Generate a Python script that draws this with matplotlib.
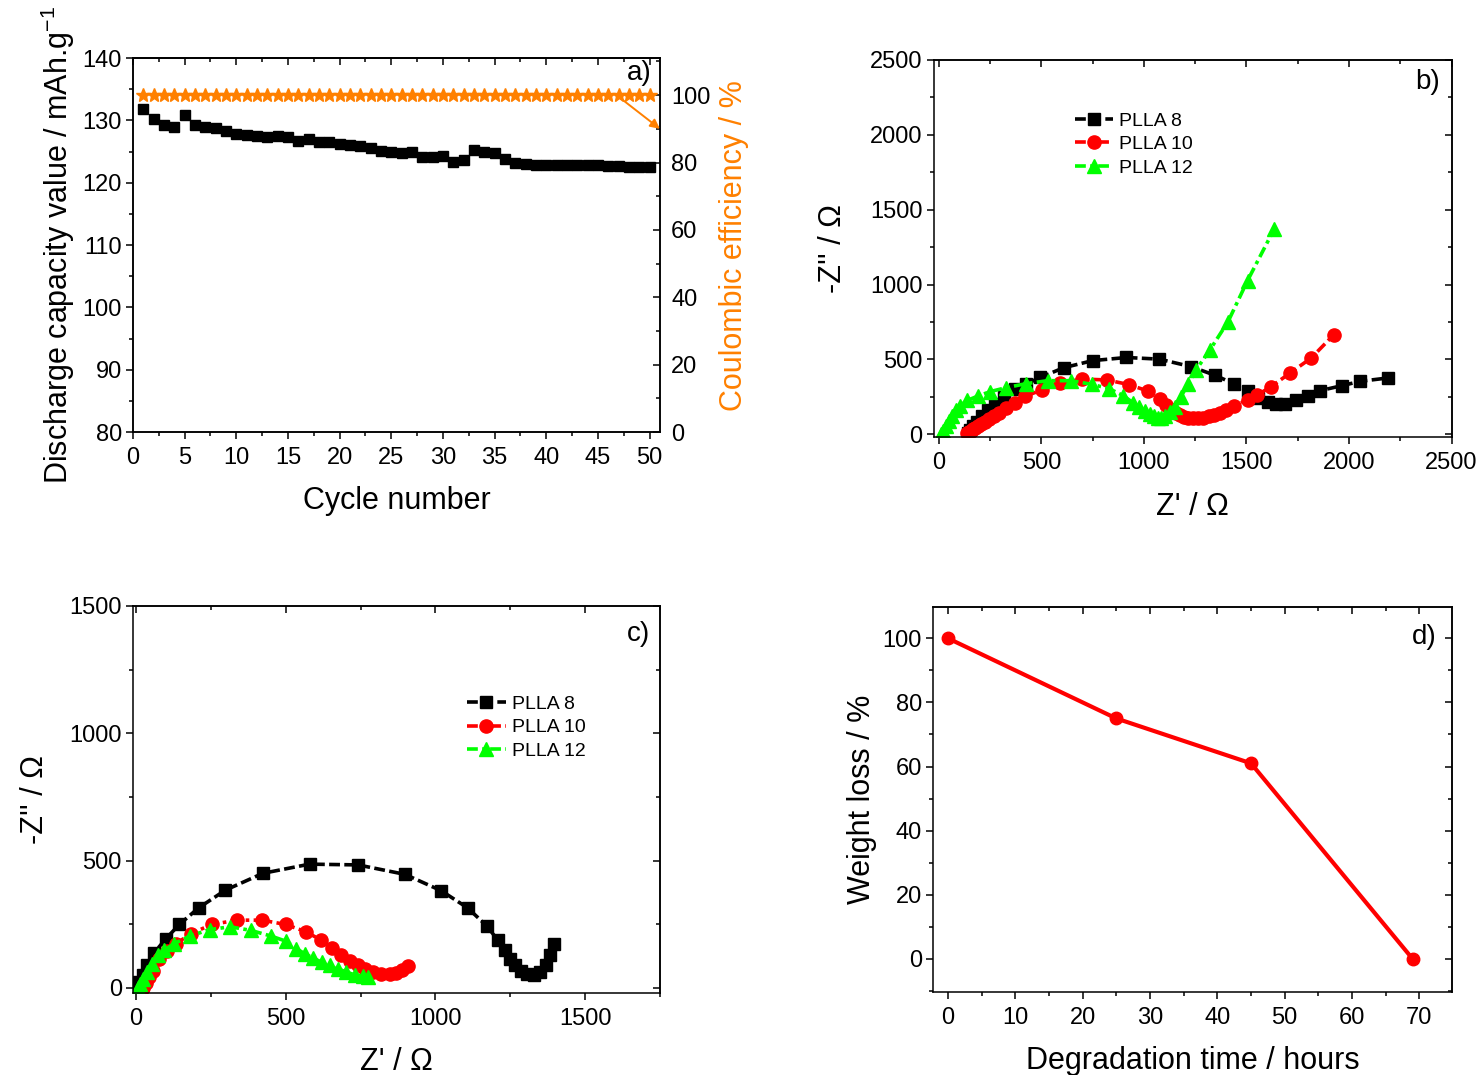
import numpy as np
import matplotlib
matplotlib.use("Agg")
import matplotlib.pyplot as plt
from matplotlib.ticker import MultipleLocator

plt.rcParams['font.family'] = ['Liberation Sans', 'DejaVu Sans']
plt.rcParams['mathtext.fontset'] = 'custom'
plt.rcParams['mathtext.rm'] = 'Liberation Sans'
plt.rcParams['mathtext.default'] = 'regular'
plt.rcParams['axes.linewidth'] = 1.1

# %% data
# a) cycling
cycles = list(range(1, 51))
capacity = [131.8, 130.2, 129.2, 129.0, 130.9, 129.2, 129.0, 128.8, 128.3, 127.8,
            127.6, 127.5, 127.3, 127.5, 127.4, 126.7, 127.0, 126.6, 126.5, 126.2,
            126.1, 125.9, 125.5, 125.1, 124.9, 124.7, 124.9, 124.2, 124.2, 124.3,
            123.3, 123.6, 125.3, 125.0, 124.7, 123.8, 123.1, 123.0, 122.9, 122.8,
            122.9, 122.8, 122.8, 122.8, 122.8, 122.7, 122.7, 122.6, 122.6, 122.6]
efficiency = [100] * 50

# b) impedance, first set
b_x8 = [140, 150, 165, 185, 210, 240, 275, 320, 370, 425, 495, 610, 750, 915, 1075,
        1230, 1345, 1438, 1507, 1555, 1605, 1645, 1690, 1740, 1800, 1860, 1966, 2055, 2188]
b_y8 = [10, 30, 55, 85, 120, 160, 205, 250, 300, 335, 380, 445, 492, 513, 502,
        452, 395, 338, 288, 245, 215, 200, 205, 228, 258, 292, 325, 354, 376]
b_x10 = [138, 145, 155, 165, 178, 192, 208, 225, 245, 268, 295, 330, 370, 421, 502,
         592, 697, 819, 927, 1021, 1078, 1110, 1135, 1155, 1175, 1195, 1215, 1240, 1265,
         1290, 1315, 1340, 1370, 1400, 1440, 1507, 1553, 1621, 1710, 1815, 1925]
b_y10 = [9, 15, 24, 33, 44, 56, 70, 84, 101, 121, 145, 175, 210, 254, 296,
         341, 369, 363, 332, 288, 234, 195, 165, 143, 128, 118, 111, 106, 107,
         112, 120, 130, 145, 163, 190, 232, 263, 319, 407, 509, 664]
b_x12 = [10, 22, 35, 50, 65, 85, 105, 138, 190, 250, 330, 425, 530, 645, 745, 830, 900,
         945, 975, 1005, 1030, 1050, 1068, 1085, 1105, 1125, 1150, 1180, 1215, 1255,
         1320, 1410, 1505, 1636]
b_y12 = [0, 25, 55, 90, 125, 160, 192, 226, 255, 285, 312, 338, 358, 358, 334, 305, 258,
         212, 180, 155, 135, 120, 112, 112, 125, 150, 185, 250, 335, 432,
         560, 752, 1026, 1373]

# c) impedance, second set
c_x8 = [5, 11, 22, 37, 61, 100, 145, 209, 299, 424, 580, 742, 898, 1019, 1108, 1172,
        1209, 1231, 1250, 1267, 1287, 1306, 1328, 1350, 1369, 1384, 1395]
c_y8 = [0, 22, 51, 88, 138, 193, 249, 314, 384, 450, 486, 483, 446, 382, 314, 243,
        187, 147, 114, 91, 68, 55, 51, 62, 88, 128, 174]
c_x10 = [25, 35, 45, 56, 78, 105, 134, 184, 253, 337, 421, 500, 569, 619, 655, 686,
         714, 742, 765, 792, 820, 848, 870, 890, 910]
c_y10 = [0, 20, 42, 68, 114, 145, 174, 213, 249, 266, 266, 249, 220, 187, 157, 128,
         104, 88, 75, 62, 55, 55, 60, 70, 85]
c_x12 = [6, 15, 25, 37, 55, 73, 93, 128, 181, 246, 315, 383, 450, 502, 536, 564, 592,
         620, 647, 675, 703, 731, 759, 776]
c_y12 = [0, 15, 35, 62, 95, 128, 147, 174, 204, 229, 240, 226, 204, 183, 154, 134, 117,
         101, 88, 75, 62, 51, 46, 42]

# d) degradation
deg_time = [0, 25, 45, 69]
weight_loss = [100, 75, 61, 0]

labels = ['PLLA 8', 'PLLA 10', 'PLLA 12']
ORANGE = '#FF8000'
TICK = 17
LAB = 22


def frame(ax, xmaj, xmin, ymaj, ymin, right=True):
    ax.xaxis.set_major_locator(MultipleLocator(xmaj))
    ax.xaxis.set_minor_locator(MultipleLocator(xmin))
    ax.yaxis.set_major_locator(MultipleLocator(ymaj))
    ax.yaxis.set_minor_locator(MultipleLocator(ymin))
    ax.tick_params(which='both', direction='out', width=1.1, labelsize=TICK, pad=3)
    ax.tick_params(axis='x', pad=6)
    ax.tick_params(which='major', length=5)
    ax.tick_params(which='minor', length=3)
    top = ax.secondary_xaxis('top')
    top.xaxis.set_major_locator(MultipleLocator(xmaj))
    top.xaxis.set_minor_locator(MultipleLocator(xmin))
    top.tick_params(which='both', direction='in', labeltop=False, width=1.1)
    top.tick_params(which='major', length=5)
    top.tick_params(which='minor', length=3)
    if right:
        r = ax.secondary_yaxis('right')
        r.yaxis.set_major_locator(MultipleLocator(ymaj))
        r.yaxis.set_minor_locator(MultipleLocator(ymin))
        r.tick_params(which='both', direction='in', labelright=False, width=1.1)
        r.tick_params(which='major', length=5)
        r.tick_params(which='minor', length=3)


fig = plt.figure(figsize=(14.82, 10.75), dpi=100)

# %% a)
ax = fig.add_axes([0.0897, 0.598, 0.3556, 0.348])
ax.plot(cycles, capacity, 's', color='black', ms=7.5, zorder=3)
ax.set_xlim(0, 51)
ax.set_ylim(80, 140)
frame(ax, 5, 2.5, 10, 5, right=False)
ax.set_xlabel('Cycle number', fontsize=LAB, labelpad=12)
ax.set_ylabel('Discharge capacity value / mAh.g$^{-1}$', fontsize=LAB, labelpad=4)
ax2 = ax.twinx()
ax2.plot(cycles, efficiency, '*', color=ORANGE, ms=10)
ax2.set_ylim(0, 111)
ax2.yaxis.set_major_locator(MultipleLocator(20))
ax2.yaxis.set_minor_locator(MultipleLocator(10))
ax2.tick_params(which='both', direction='in', width=1.1, labelsize=TICK, pad=8)
ax2.tick_params(which='major', length=5)
ax2.tick_params(which='minor', length=3)
ax2.set_ylabel('Coulombic efficiency / %', fontsize=LAB, color=ORANGE, labelpad=6)
ax2.annotate('', xy=(51, 90), xytext=(46.8, 100), annotation_clip=False,
             arrowprops=dict(arrowstyle='-|>', color=ORANGE, lw=1.4, mutation_scale=14,
                             shrinkA=0, shrinkB=0))
ax.text(0.985, 0.995, 'a)', transform=ax.transAxes, ha='right', va='top', fontsize=20)

# %% b)
ax = fig.add_axes([0.630, 0.5935, 0.3495, 0.3507])
ax.plot(b_x8, b_y8, color='black', ls=(0, (3, 1.2)), lw=2.6, marker='s', ms=8.5, label=labels[0])
ax.plot(b_x10, b_y10, color='red', ls=(0, (3, 1.2, 1, 1.2)), lw=2.6, marker='o', ms=9.5, label=labels[1])
ax.plot(b_x12, b_y12, color='#00FF00', ls=(0, (3, 1.2, 1, 1.2)), lw=2.6, marker='^', ms=10, label=labels[2])
ax.set_xlim(-25, 2500)
ax.set_ylim(-18, 2500)
frame(ax, 500, 250, 500, 250)
ax.set_xlabel("Z' / \u03a9", fontsize=LAB, labelpad=13)
ax.set_ylabel("-Z'' / \u03a9", fontsize=LAB, labelpad=16)
ax.legend(loc='upper left', bbox_to_anchor=(0.272, 0.862), frameon=False, fontsize=14,
          handlelength=2.0, handletextpad=0.3, labelspacing=0.3, borderpad=0, borderaxespad=0)
ax.text(0.977, 0.975, 'b)', transform=ax.transAxes, ha='right', va='top', fontsize=20)

# %% c)
ax = fig.add_axes([0.0897, 0.0763, 0.3556, 0.36])
ax.plot(c_x8, c_y8, color='black', ls=(0, (3, 1.2)), lw=2.6, marker='s', ms=9, label=labels[0])
ax.plot(c_x10, c_y10, color='red', ls=(0, (3, 1.2, 1, 1.2)), lw=2.6, marker='o', ms=9.5, label=labels[1])
ax.plot(c_x12, c_y12, color='#00FF00', ls=(0, (3, 1.2, 1, 1.2)), lw=2.6, marker='^', ms=10, label=labels[2])
ax.set_xlim(-10, 1750)
ax.set_ylim(-20, 1500)
frame(ax, 500, 250, 500, 250)
ax.set_xlabel("Z' / \u03a9", fontsize=LAB, labelpad=12)
ax.set_ylabel("-Z'' / \u03a9", fontsize=LAB, labelpad=14)
ax.legend(loc='upper left', bbox_to_anchor=(0.634, 0.769), frameon=False, fontsize=14,
          handlelength=2.0, handletextpad=0.3, labelspacing=0.3, borderpad=0, borderaxespad=0)
ax.text(0.981, 0.96, 'c)', transform=ax.transAxes, ha='right', va='top', fontsize=20)

# %% d)
ax = fig.add_axes([0.6296, 0.0772, 0.350, 0.358])
ax.plot(deg_time, weight_loss, color='red', lw=3, marker='o', ms=9)
ax.set_xlim(-2.2, 74.8)
ax.set_ylim(-10.3, 109.7)
frame(ax, 10, 5, 20, 10)
ax.set_xlabel('Degradation time / hours', fontsize=LAB, labelpad=12)
ax.set_ylabel('Weight loss / %', fontsize=LAB, labelpad=4)
ax.text(0.971, 0.955, 'd)', transform=ax.transAxes, ha='right', va='top', fontsize=20)

fig.savefig('out.png', dpi=100)
